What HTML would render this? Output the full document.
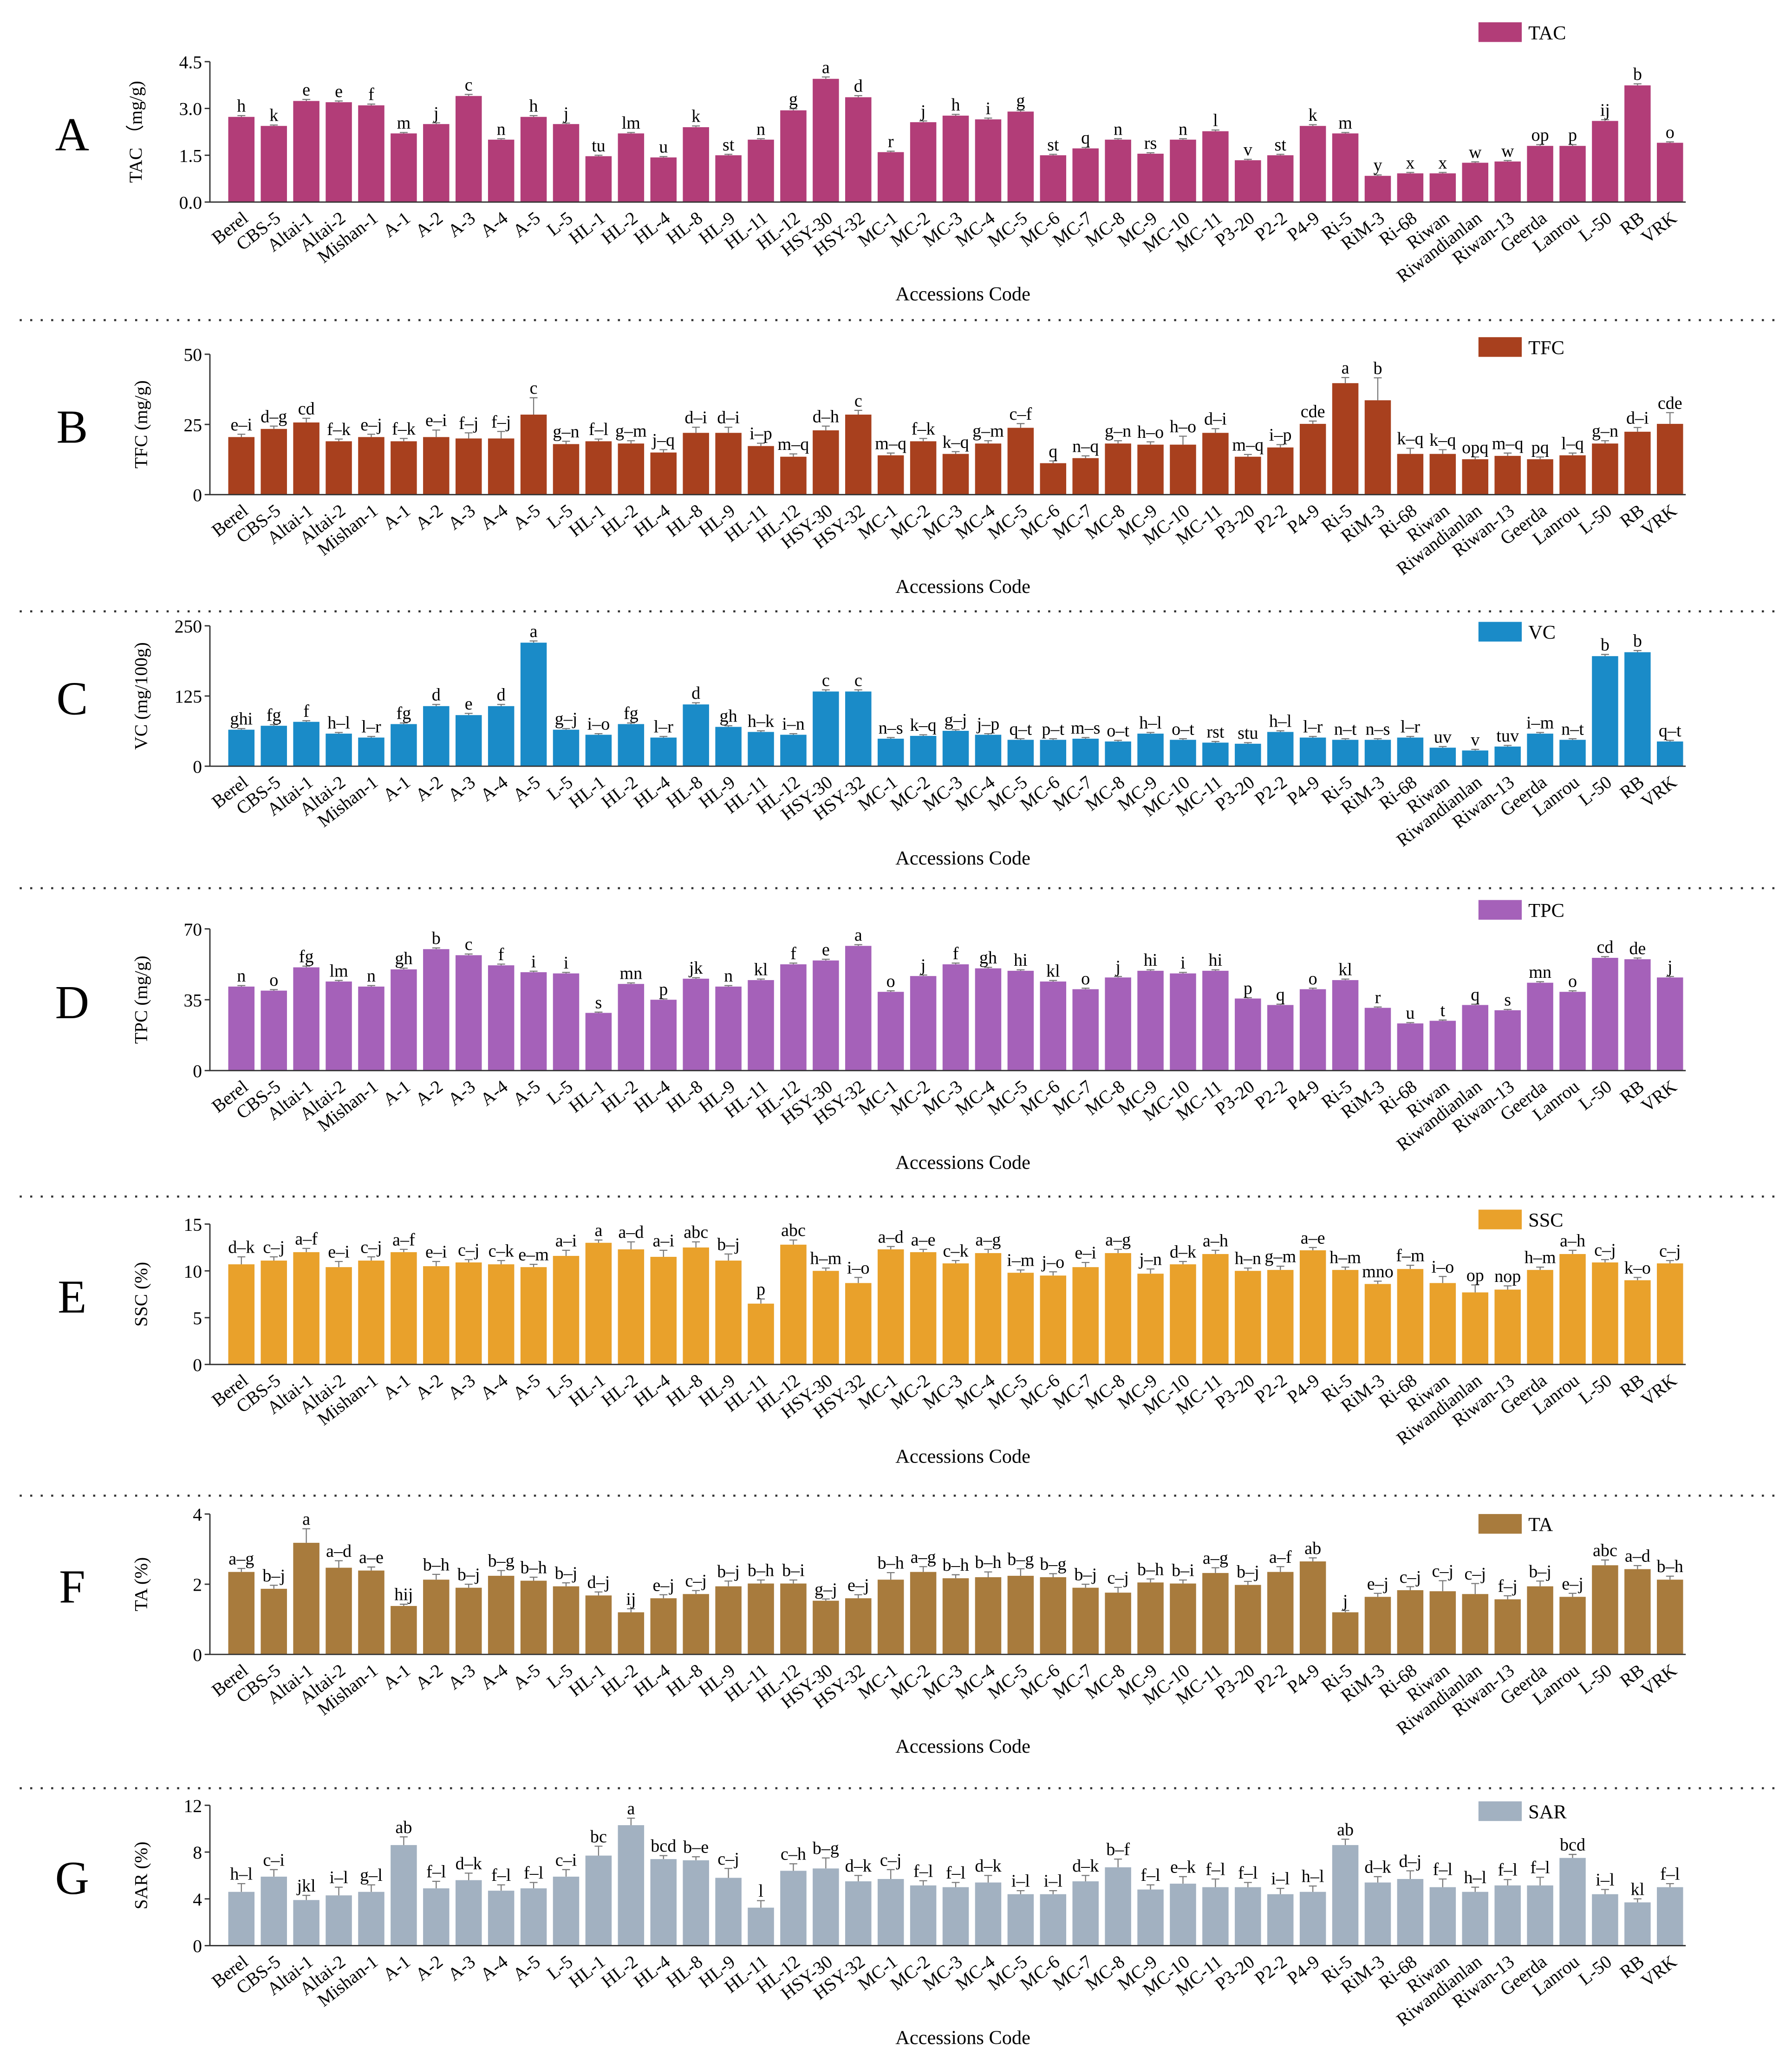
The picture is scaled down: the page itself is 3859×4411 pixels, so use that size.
<!DOCTYPE html>
<html><head><meta charset="utf-8"><style>
html,body{margin:0;padding:0;background:#fff;}
svg{display:block;font-family:"Liberation Serif",serif;}
</style></head><body>
<svg id="chart" xmlns="http://www.w3.org/2000/svg" width="3859" height="4411" viewBox="0 0 1366 1561" preserveAspectRatio="none"></svg>
<script>
const categories = ["Berel","CBS-5","Altai-1","Altai-2","Mishan-1","A-1","A-2","A-3","A-4","A-5","L-5","HL-1","HL-2","HL-4","HL-8","HL-9","HL-11","HL-12","HSY-30","HSY-32","MC-1","MC-2","MC-3","MC-4","MC-5","MC-6","MC-7","MC-8","MC-9","MC-10","MC-11","P3-20","P2-2","P4-9","Ri-5","RiM-3","Ri-68","Riwan","Riwandianlan","Riwan-13","Geerda","Lanrou","L-50","RB","VRK"];

const tacValues = [2.73,2.44,3.24,3.2,3.1,2.2,2.5,3.4,2.0,2.73,2.5,1.47,2.2,1.43,2.4,1.5,2.0,2.94,3.95,3.36,1.6,2.56,2.77,2.65,2.9,1.5,1.72,2.0,1.55,2.0,2.27,1.34,1.5,2.44,2.2,0.84,0.92,0.92,1.26,1.3,1.8,1.8,2.6,3.74,1.9];
const tacErr = [0.04,0.03,0.05,0.04,0.04,0.03,0.04,0.05,0.03,0.04,0.03,0.03,0.03,0.03,0.04,0.03,0.03,0.05,0.06,0.05,0.03,0.04,0.04,0.04,0.04,0.03,0.03,0.03,0.03,0.03,0.04,0.03,0.03,0.04,0.03,0.03,0.03,0.03,0.03,0.03,0.04,0.04,0.04,0.05,0.03];
const tacLetters = ["h","k","e","e","f","m","j","c","n","h","j","tu","lm","u","k","st","n","g","a","d","r","j","h","i","g","st","q","n","rs","n","l","v","st","k","m","y","x","x","w","w","op","p","ij","b","o"];

const tfcValues = [20.5,23.4,25.7,19,20.5,19,20.5,20,20,28.5,18,19,18.2,15,22,22,17.3,13.5,22.9,28.5,14,19,14.5,18.2,23.8,11.2,13,18.2,17.8,17.8,22,13.5,16.8,25.2,39.7,33.6,14.5,14.5,12.6,13.8,12.6,14,18.2,22.4,25.2];
const tfcErr = [1,1,1.5,0.8,1,1,2.5,2,2.5,6,1,0.8,1,1,2,2,1,1,1.5,1.5,0.8,1,0.8,1,1.5,0.8,0.8,1,1,3,1.5,0.8,1,1,2,8,2,1.5,0.8,1,0.8,0.8,1,1.5,4];
const tfcLetters = ["e–i","d–g","cd","f–k","e–j","f–k","e–i","f–j","f–j","c","g–n","f–l","g–m","j–q","d–i","d–i","i–p","m–q","d–h","c","m–q","f–k","k–q","g–m","c–f","q","n–q","g–n","h–o","h–o","d–i","m–q","i–p","cde","a","b","k–q","k–q","opq","m–q","pq","l–q","g–n","d–i","cde"];

const vcValues = [65,72,79,58,51,75,107,91,107,220,65,56,75,51,110,70,61,56,133,133,49,54,63,56,47,47,49,44,58,47,42,40,61,51,47,47,51,33,28,35,58,47,196,203,44];
const vcErr = [2,2,2,2,2,2,3,3,3,3,2,2,2,2,3,2,2,2,3,3,2,2,2,2,2,2,2,2,2,2,2,2,2,2,2,2,2,2,2,2,2,2,3,3,2];
const vcLetters = ["ghi","fg","f","h–l","l–r","fg","d","e","d","a","g–j","i–o","fg","l–r","d","gh","h–k","i–n","c","c","n–s","k–q","g–j","j–p","q–t","p–t","m–s","o–t","h–l","o–t","rst","stu","h–l","l–r","n–t","n–s","l–r","uv","v","tuv","i–m","n–t","b","b","q–t"];

const tpcValues = [41.5,39.5,51,44,41.5,50,60,57,52,48.6,48,28.5,42.8,35,45.4,41.5,44.7,52.5,54.4,61.6,38.9,46.7,52.5,50.5,49.3,44,40.2,46,49.3,48,49.3,35.6,32.4,40.2,44.7,31,23.3,24.6,32.4,29.8,43.4,38.9,55.7,55,46];
const tpcErr = [0.5,0.5,0.6,0.5,0.5,0.6,0.6,0.6,0.6,0.5,0.5,0.4,0.5,0.4,0.5,0.5,0.5,0.6,0.6,0.6,0.5,0.5,0.6,0.5,0.5,0.5,0.5,0.5,0.5,0.5,0.5,0.4,0.4,0.5,0.5,0.4,0.4,0.4,0.4,0.4,0.5,0.5,0.6,0.6,0.5];
const tpcLetters = ["n","o","fg","lm","n","gh","b","c","f","i","i","s","mn","p","jk","n","kl","f","e","a","o","j","f","gh","hi","kl","o","j","hi","i","hi","p","q","o","kl","r","u","t","q","s","mn","o","cd","de","j"];

const sscValues = [10.7,11.1,12,10.4,11.1,12,10.5,10.9,10.7,10.4,11.6,13,12.3,11.5,12.5,11.1,6.5,12.8,10,8.7,12.3,12,10.8,11.9,9.8,9.5,10.4,11.9,9.7,10.7,11.8,10,10.1,12.2,10.1,8.6,10.2,8.7,7.7,8,10.1,11.8,10.9,9,10.8];
const sscErr = [0.8,0.4,0.4,0.6,0.4,0.3,0.5,0.3,0.4,0.3,0.6,0.3,0.8,0.7,0.6,0.7,0.5,0.5,0.3,0.6,0.3,0.3,0.3,0.4,0.3,0.4,0.5,0.4,0.5,0.3,0.4,0.3,0.4,0.3,0.3,0.3,0.4,0.7,0.8,0.4,0.3,0.4,0.3,0.3,0.3];
const sscLetters = ["d–k","c–j","a–f","e–i","c–j","a–f","e–i","c–j","c–k","e–m","a–i","a","a–d","a–i","abc","b–j","p","abc","h–m","i–o","a–d","a–e","c–k","a–g","i–m","j–o","e–i","a–g","j–n","d–k","a–h","h–n","g–m","a–e","h–m","mno","f–m","i–o","op","nop","h–m","a–h","c–j","k–o","c–j"];

const taValues = [2.35,1.87,3.18,2.47,2.39,1.38,2.13,1.9,2.24,2.1,1.94,1.68,1.2,1.6,1.72,1.94,2.02,2.02,1.53,1.6,2.13,2.35,2.17,2.2,2.24,2.2,1.9,1.76,2.05,2.02,2.32,1.98,2.35,2.65,1.2,1.64,1.83,1.8,1.72,1.57,1.94,1.64,2.54,2.43,2.13];
const taErr = [0.1,0.1,0.4,0.2,0.1,0.05,0.15,0.1,0.15,0.1,0.1,0.1,0.1,0.1,0.1,0.15,0.1,0.1,0.05,0.1,0.2,0.15,0.1,0.15,0.2,0.1,0.1,0.15,0.1,0.1,0.15,0.1,0.15,0.1,0.05,0.1,0.1,0.3,0.3,0.1,0.15,0.1,0.15,0.1,0.1];
const taLetters = ["a–g","b–j","a","a–d","a–e","hij","b–h","b–j","b–g","b–h","b–j","d–j","ij","e–j","c–j","b–j","b–h","b–i","g–j","e–j","b–h","a–g","b–h","b–h","b–g","b–g","b–j","c–j","b–h","b–i","a–g","b–j","a–f","ab","j","e–j","c–j","c–j","c–j","f–j","b–j","e–j","abc","a–d","b–h"];

const sarValues = [4.6,5.9,3.9,4.3,4.6,8.6,4.9,5.6,4.7,4.9,5.9,7.7,10.3,7.4,7.3,5.8,3.25,6.4,6.6,5.5,5.7,5.15,5.0,5.4,4.4,4.4,5.5,6.7,4.8,5.3,5.0,5.0,4.4,4.6,8.6,5.4,5.7,5.0,4.6,5.15,5.15,7.5,4.4,3.7,5.0];
const sarErr = [0.7,0.6,0.4,0.7,0.6,0.7,0.6,0.6,0.5,0.5,0.6,0.8,0.6,0.3,0.3,0.8,0.6,0.6,0.9,0.5,0.8,0.4,0.4,0.6,0.3,0.3,0.5,0.7,0.4,0.6,0.7,0.4,0.5,0.5,0.5,0.5,0.7,0.7,0.4,0.5,0.7,0.3,0.4,0.3,0.3];
const sarLetters = ["h–l","c–i","jkl","i–l","g–l","ab","f–l","d–k","f–l","f–l","c–i","bc","a","bcd","b–e","c–j","l","c–h","b–g","d–k","c–j","f–l","f–l","d–k","i–l","i–l","d–k","b–f","f–l","e–k","f–l","f–l","i–l","h–l","ab","d–k","d–j","f–l","h–l","f–l","f–l","bcd","i–l","kl","f–l"];

const tacTicks = ["0.0","1.5","3.0","4.5"];
const tfcTicks = ["0","25","50"];
const vcTicks = ["0","125","250"];
const tpcTicks = ["0","35","70"];
const sscTicks = ["0","5","10","15"];
const taTicks = ["0","2","4"];
const sarTicks = ["0","4","8","12"];

const panels = [
 {id:"tac",letter:"A",name:"TAC",ytitle:"TAC （mg/g)",vals:tacValues,err:tacErr,lets:tacLetters,ticks:tacTicks,top:47,zero:154,color:"#b23d78",legY:17,sep:244},
 {id:"tfc",letter:"B",name:"TFC",ytitle:"TFC (mg/g)",vals:tfcValues,err:tfcErr,lets:tfcLetters,ticks:tfcTicks,top:270,zero:377,color:"#a8401e",legY:257,sep:466},
 {id:"vc",letter:"C",name:"VC",ytitle:"VC (mg/100g)",vals:vcValues,err:vcErr,lets:vcLetters,ticks:vcTicks,top:477,zero:584,color:"#1a8bc8",legY:474,sep:677},
 {id:"tpc",letter:"D",name:"TPC",ytitle:"TPC (mg/g)",vals:tpcValues,err:tpcErr,lets:tpcLetters,ticks:tpcTicks,top:708,zero:816,color:"#a561b9",legY:686,sep:912},
 {id:"ssc",letter:"E",name:"SSC",ytitle:"SSC (%)",vals:sscValues,err:sscErr,lets:sscLetters,ticks:sscTicks,top:933,zero:1040,color:"#e9a12b",legY:922,sep:1140},
 {id:"ta",letter:"F",name:"TA",ytitle:"TA (%)",vals:taValues,err:taErr,lets:taLetters,ticks:taTicks,top:1154,zero:1261,color:"#a87b3d",legY:1154,sep:1363},
 {id:"sar",letter:"G",name:"SAR",ytitle:"SAR (%)",vals:sarValues,err:sarErr,lets:sarLetters,ticks:sarTicks,top:1376,zero:1483,color:"#a2b1c1",legY:1373,sep:null}
];

const svg = document.getElementById('chart');
const NS = "http://www.w3.org/2000/svg";
function mk(tag, attrs, parent, text){
  const e = document.createElementNS(NS, tag);
  for (const k in attrs) e.setAttribute(k, attrs[k]);
  if (text !== undefined) e.textContent = text;
  parent.appendChild(e);
  return e;
}
const X0 = 160, X1 = 1285, C0 = 184, STEP = 24.75, BW = 20;
function xPos(i){ return C0 + i*STEP; }

panels.forEach(p => {
  const g = mk('g', {}, svg);
  
  
  const maxV = parseFloat(p.ticks[p.ticks.length-1]);
  const yPos = v => p.zero - (v / maxV) * (p.zero - p.top);

  const pl = mk('text', {x:55, y:(p.top+p.zero)/2+14, 'font-size':36, 'text-anchor':'middle', fill:'#000'}, g, p.letter);
  
  

  const yt = mk('text', {x:0, y:0, 'font-size':14, 'text-anchor':'middle', transform:`translate(${p.letter==='A'?108:112},${(p.top+p.zero)/2}) rotate(-90)`}, g, p.ytitle);
  
  

  // bars
  p.vals.forEach((v, i) => {
    const cx = xPos(i), y = yPos(v);
    const b = mk('rect', {x:cx-BW/2, y:y, width:BW, height:p.zero-y, fill:p.color}, g);
    
    
    const ye = yPos(v + p.err[i]);
    const eb = mk('path', {d:`M${cx},${y} V${ye} M${cx-3},${ye} H${cx+3}`, stroke:'#777', 'stroke-width':0.8, fill:'none'}, g);
    
    
    const lt = mk('text', {x:cx, y:ye-3, 'font-size':13.5, 'text-anchor':'middle', fill:'#000'}, g, p.lets[i]);
    
    
    const xl = mk('text', {x:0, y:0, 'font-size':14, 'text-anchor':'end', transform:`translate(${cx+6},${p.zero+14}) rotate(-38)`}, g, categories[i]);
    
    
  });

  // axes
  const ax = mk('path', {d:`M${X0},${p.top} V${p.zero} H${X1}`, stroke:'#333', 'stroke-width':1, fill:'none'}, g);
  
  
  p.ticks.forEach(t => {
    const y = yPos(parseFloat(t));
    const tk = mk('line', {x1:X0-4, x2:X0, y1:y, y2:y, stroke:'#333', 'stroke-width':1}, g);
    
    
    const tl = mk('text', {x:X0-6, y:y+5, 'font-size':14, 'text-anchor':'end'}, g, t);
    
    
  });

  const xt = mk('text', {x:734, y:p.zero+75, 'font-size':15, 'text-anchor':'middle'}, g, 'Accessions Code');
  
  

  // legend
  const lg = mk('g', {}, g);
  
  
  mk('rect', {x:1127, y:p.legY, width:33, height:15, fill:p.color}, lg);
  mk('text', {x:1165, y:p.legY+13, 'font-size':15}, lg, p.name);

  if (p.sep !== null) {
    const s = mk('line', {x1:15, x2:1357, y1:p.sep, y2:p.sep, stroke:'#333', 'stroke-width':1.6, 'stroke-dasharray':'1.6 6.4'}, g);
    
    
  }
});
</script>
</body></html>
